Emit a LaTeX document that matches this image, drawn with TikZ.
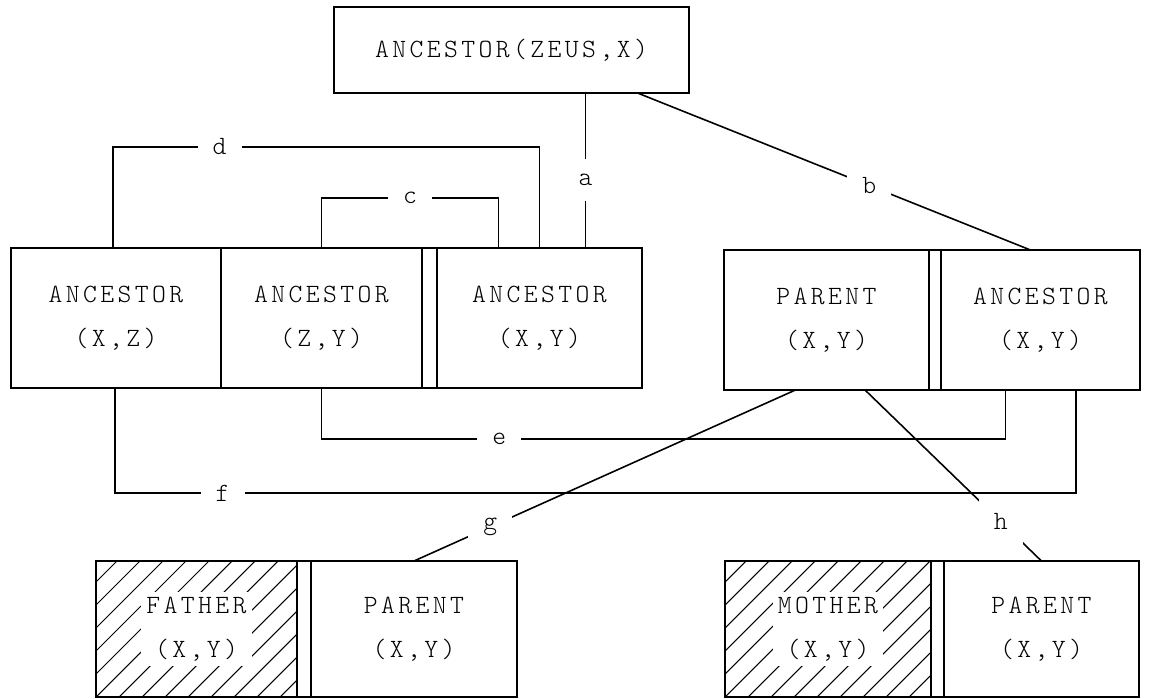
\documentclass[tikz,border=0pt]{standalone}
\usepackage{fontspec}
\newfontfamily\typewriter{lmmonolt10-regular.otf}[LetterSpace=13]
\usetikzlibrary{positioning,calc}

\begin{document}
\begin{tikzpicture}[
		x=0.02cm, y=0.02cm,
		line width=0.9pt,
		box/.style = {draw, inner sep=0pt, outer sep=0pt, minimum height=2.8cm, align=center, font=\typewriter\fontsize{15}{25}\selectfont},
		txt/.style = {fill=white, inner sep=3pt, align=center, font=\typewriter\fontsize{15}{25}\selectfont},
		tag/.style = {fill=white, inner sep=0.3cm, font=\typewriter\fontsize{15}{19}\selectfont},
		hatchline/.style = {line width=0.6pt}
		]
	\useasboundingbox (0,0) rectangle (1149,699);

	% goal
	\node[box, minimum width=7.1cm, minimum height=1.72cm] (T) at (511.5,649) {ANCESTOR(ZEUS,X)};

	% first clause
	\node[box, minimum width=4.2cm] (A1) at (116,381) {ANCESTOR\\(X,Z)};
	\node[box, minimum width=4.02cm, right=0pt of A1] (A2) {ANCESTOR\\(Z,Y)};
	\node[box, minimum width=4.1cm, right=0.3cm of A2] (A3) {ANCESTOR\\(X,Y)};
	\draw (A2.north east) -- (A3.north west);
	\draw (A2.south east) -- (A3.south west);

	% second clause
	\node[box, minimum width=4.1cm] (P1) at (826.5,379) {PARENT\\(X,Y)};
	\node[box, minimum width=3.98cm, right=0.24cm of P1] (A4) {ANCESTOR\\(X,Y)};
	\draw (P1.north east) -- (A4.north west);
	\draw (P1.south east) -- (A4.south west);

	% facts
	\node[box, minimum width=4.02cm, minimum height=2.72cm] (F) at (196.5,70) {};
	\node[box, minimum width=4.12cm, minimum height=2.72cm, right=0.28cm of F] (P2) {PARENT\\(X,Y)};
	\node[box, minimum width=4.12cm, minimum height=2.72cm] (M) at (828,70) {};
	\node[box, minimum width=3.9cm, minimum height=2.72cm, right=0.26cm of M] (P3) {PARENT\\(X,Y)};
	\draw (F.north east) -- (P2.north west);
	\draw (F.south east) -- (P2.south west);
	\draw (M.north east) -- (P3.north west);
	\draw (M.south east) -- (P3.south west);

	\foreach \b in {F,M} {
		\begin{scope}
			\clip (\b.south west) rectangle (\b.north east);
			\foreach \k in {-6,...,9}
				\draw[hatchline] ($(\b.south west)+(\k*23,0)$) -- ++(136,136);
		\end{scope}
	}
	\node[txt] (Ftext) at (F.center) {FATHER\\(X,Y)};
	\node[txt] (Mtext) at (M.center) {MOTHER\\(X,Y)};

	% connections
	\coordinate (a1) at ($(A3.north)+(46,0)$);
	\draw (T.south -| a1) -- node[tag, pos=0.56] {a} (a1);
	\draw ($(T.south)+(126,0)$) -- node[tag, pos=0.59] {b} ($(A4.north)+(-10,0)$);
	\draw (A2.north) -- ++(0,50) -| node[tag, pos=0.25] {c} ($(A3.north)+(-41,0)$);
	\draw ($(A1.north)+(-3,0)$) -- ++(0,101) -| node[tag, pos=0.125] {d} (A3.north);
	\draw (A2.south) -- ++(0,-51) -| node[tag, pos=0.13] {e} ($(A4.south)+(-35,0)$);
	\draw ($(A1.south)+(-1,0)$) -- ++(0,-105) -| node[tag, pos=0.056] {f} ($(A4.south)+(35.5,0)$);
	\draw ($(P1.south)+(-31,0)$) -- node[tag, pos=0.8] {g} (P2.north);
	\draw ($(P1.south)+(38.5,0)$) -- node[tag, pos=0.77] {h} (P3.north);
\end{tikzpicture}
\end{document}
